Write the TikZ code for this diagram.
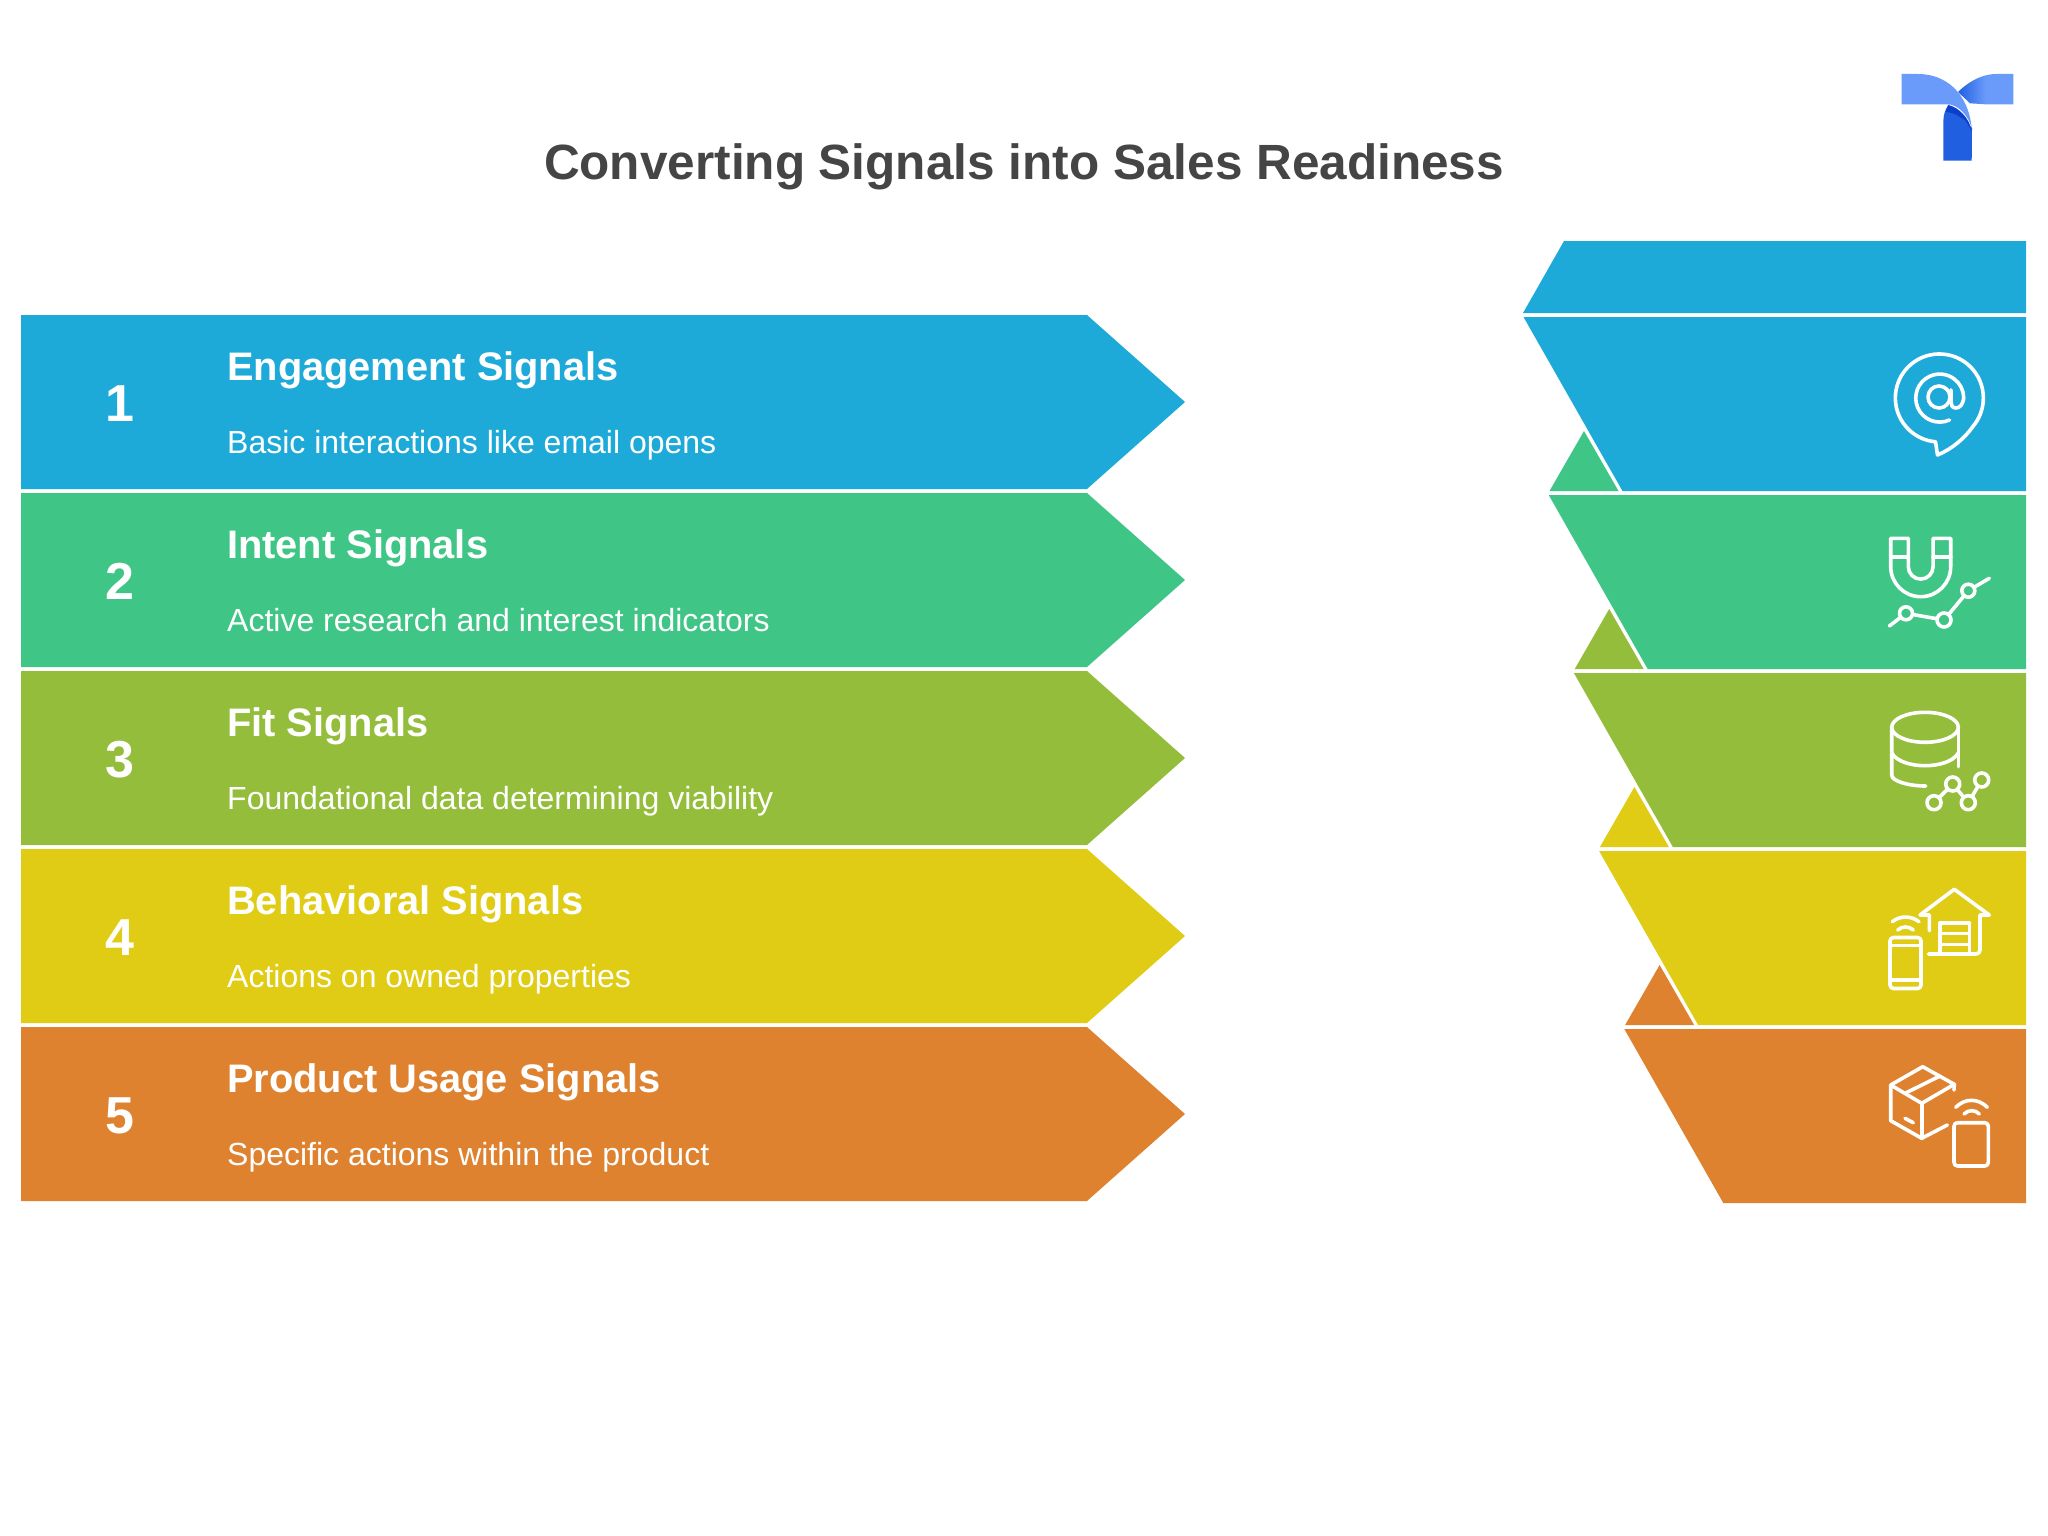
\documentclass[tikz,border=0pt]{standalone}
\usepackage{fontspec}
\setmainfont{Liberation Sans}
\definecolor{cA}{HTML}{1EAAD9}
\definecolor{cB}{HTML}{3FC585}
\definecolor{cC}{HTML}{94BD3B}
\definecolor{cD}{HTML}{E0CC14}
\definecolor{cE}{HTML}{DE8230}
\definecolor{logoL}{HTML}{6A9BFA}
\definecolor{logoM}{HTML}{2060E0}
\definecolor{logoD}{HTML}{0A3FCC}
\tikzset{
  titletext/.style={anchor=base,text=black!73,font=\fontsize{49.5}{50}\selectfont\bfseries,inner sep=0pt},
  numtext/.style={anchor=base,text=white,font=\fontsize{52}{52}\selectfont\bfseries,inner sep=0pt},
  headtext/.style={anchor=base west,text=white,font=\fontsize{39.8}{40}\selectfont\bfseries,inner sep=0pt},
  desctext/.style={anchor=base west,text=white,font=\fontsize{32}{32}\selectfont,inner sep=0pt},
  icon/.style={draw=white,line width=3.6pt,line cap=round,line join=round},
}
\begin{document}
\begin{tikzpicture}[x=1pt,y=-1pt]
\useasboundingbox (0,0) rectangle (2048,1536);
\fill[white] (0,0) rectangle (2048,1536);
% logo
\shade[left color=logoM,right color=logoL,middle color=logoL] (2013.3,74)--(1996,74) .. controls (1980,74) and (1966,84) .. (1958,92)--(1970,103.3)--(1985,104.3)--(2013.3,104.3)--cycle;
\fill[logoM] (1943.3,160.7)--(1943.3,122) .. controls (1943.3,115) and (1945,110) .. (1948.3,105)--(1972,128)--(1971.7,160.7)--cycle;
\fill[logoD] (1948.3,105) .. controls (1958,107) and (1970,118) .. (1971.7,132) .. controls (1968,120) and (1955,112) .. (1945.5,112)--cycle;
\fill[logoL] (1901.7,74)--(1918,74) .. controls (1945,74) and (1968,92) .. (1971.7,128) .. controls (1968,115) and (1958,104.3) .. (1947,104.3)--(1901.7,104.3)--cycle;
% title
\node[titletext] (title) at (1024,179) {Converting Signals into Sales Readiness};
% top piece
\fill[cA] (1564,241)--(2026,241)--(2026,313)--(1523,313)--cycle;
% rows
\foreach \i/\col in {0/cA,1/cB,2/cC,3/cD,4/cE}{
  \pgfmathsetmacro{\lt}{315+178*\i}
  \pgfmathsetmacro{\lb}{\lt+174}
  \pgfmathsetmacro{\lm}{\lt+87}
  \fill[\col] (21,\lt)--(1087,\lt)--(1185,\lm)--(1087,\lb)--(21,\lb)--cycle;
  \pgfmathsetmacro{\rt}{317+178*\i}
  \pgfmathsetmacro{\rb}{\rt+174}
  \pgfmathsetmacro{\rx}{1523.5+25.2*\i}
  \pgfmathsetmacro{\rxb}{\rx+99}
  \fill[\col] (\rx,\rt)--(2026,\rt)--(2026,\rb)--(\rxb,\rb)--cycle;
}
\foreach \i/\nxt in {0/cB,1/cC,2/cD,3/cE}{
  \pgfmathsetmacro{\ty}{491+178*\i}
  \pgfmathsetmacro{\tay}{\ty-60}
  \pgfmathsetmacro{\ta}{1549.5+25.2*\i}
  \pgfmathsetmacro{\tb}{\ta+69}
  \pgfmathsetmacro{\tc}{\ta+34.5}
  \fill[\nxt] (\ta,\ty)--(\tb,\ty)--(\tc,\tay)--cycle;
}
% texts
\node[numtext] (n1) at (120,421) {1};
\node[numtext] (n2) at (120,599) {2};
\node[numtext] (n3) at (120,777) {3};
\node[numtext] (n4) at (120,955) {4};
\node[numtext] (n5) at (120,1133) {5};
\node[headtext] (h1) at (227,380) {Engagement Signals};
\node[headtext] (h2) at (227,558) {Intent Signals};
\node[headtext] (h3) at (227,736) {Fit Signals};
\node[headtext] (h4) at (227,914) {Behavioral Signals};
\node[headtext] (h5) at (227,1092) {Product Usage Signals};
\node[desctext] (d1) at (227,453) {Basic interactions like email opens};
\node[desctext] (d2) at (227,631) {Active research and interest indicators};
\node[desctext] (d3) at (227,809) {Foundational data determining viability};
\node[desctext] (d4) at (227,987) {Actions on owned properties};
\node[desctext] (d5) at (227,1165) {Specific actions within the product};
% icon 1
\draw[icon] (1935.5,441.8) arc[start angle=95,end angle=400,radius=44] .. controls (1965,438) and (1952,449) .. (1937.5,455)--cycle;
\draw[icon] (1949.5,420) arc[start angle=66,end angle=360,radius=24] .. controls (1963,404) and (1960,408) .. (1956,408) .. controls (1952,408) and (1951,405) .. (1951,402)--(1951,390);
\draw[icon] (1939,397) circle[radius=11];
% icon 2
\draw[icon] (1890.7,538.3)--(1908.3,538.3)--(1908.3,566.7) arc[start angle=180,end angle=0,radius=12.4]--(1933.1,538.3)--(1950.7,538.3)--(1950.7,566.7) arc[start angle=0,end angle=180,radius=30]--cycle;
\draw[icon] (1890.7,556.7)--(1908.3,556.7) (1933.1,556.7)--(1950.7,556.7);
\draw[icon] (1889.3,626)--(1906,613.3)--(1944,620)--(1968.3,590.7)--(1989.3,578.3);
\draw[icon,fill=cB] (1906,613.3) circle[radius=6.5] (1944,620) circle[radius=7] (1968.3,590.7) circle[radius=6.5];
% icon 3
\draw[icon] (1925,727.3) ellipse[x radius=33.3,y radius=15];
\draw[icon] (1891.7,727.3)--(1891.7,775) .. controls (1891.7,781) and (1908,786) .. (1925.7,786);
\draw[icon] (1958.3,727.3)--(1958.3,766.7);
\draw[icon] (1891.7,753) .. controls (1897,762) and (1912,765.7) .. (1925,765.7) .. controls (1938,765.7) and (1953,762) .. (1958.3,753);
\draw[icon] (1934,802.7)--(1952.7,784)--(1968.3,802.7)--(1981.7,780);
\draw[icon,fill=cC] (1934,802.7) circle[radius=7] (1952.7,784) circle[radius=7] (1968.3,802.7) circle[radius=7] (1981.7,780) circle[radius=7];
% icon 4
\draw[icon] (1890,941) arc[start angle=180,end angle=270,radius=3.5]--(1917.5,937.5) arc[start angle=270,end angle=360,radius=3.5]--(1921,985) arc[start angle=0,end angle=90,radius=3.5]--(1893.5,988.5) arc[start angle=90,end angle=180,radius=3.5]--cycle;
\draw[icon] (1890,945.5)--(1921,945.5) (1890,980)--(1921,980);
\draw[icon] (1892.3,921.7) .. controls (1900,915.5) and (1911,915.5) .. (1919,921.7);
\draw[icon] (1897.7,930) .. controls (1902,926) and (1909,926) .. (1913.3,930);
\draw[icon] (1929.3,930.7)--(1929.3,915)--(1920,915)--(1954.3,889.3)--(1989.3,915)--(1980,915)--(1980,950) arc[start angle=0,end angle=90,radius=4]--(1928.3,954);
\draw[icon] (1940,954)--(1940,922.7)--(1969.3,922.7)--(1969.3,954);
\draw[icon] (1940,933.3)--(1969.3,933.3) (1940,944.3)--(1969.3,944.3);
% icon 5
\draw[icon] (1922.7,1066.7)--(1954.3,1084.3)--(1921.7,1103.3)--(1890.7,1085)--cycle;
\draw[icon] (1890.7,1085)--(1890.7,1120.7)--(1921.7,1138.3)--(1947.3,1125);
\draw[icon] (1921.7,1103.3)--(1921.7,1138.3);
\draw[icon] (1905,1093.3)--(1940,1076);
\draw[icon] (1905,1118.3)--(1913.3,1122.7);
\draw[icon] (1954.3,1084.3)--(1954,1090);
\draw[icon] (1954,1126.2) arc[start angle=180,end angle=270,radius=3.5]--(1984.8,1122.7) arc[start angle=270,end angle=360,radius=3.5]--(1988.3,1162.5) arc[start angle=0,end angle=90,radius=3.5]--(1957.5,1166) arc[start angle=90,end angle=180,radius=3.5]--cycle;
\draw[icon] (1955.7,1107.3) .. controls (1965,1098) and (1978,1098) .. (1987.3,1107.3);
\draw[icon] (1964,1114) .. controls (1968.5,1109.5) and (1975,1109.5) .. (1979.3,1114);
\end{tikzpicture}
\end{document}
